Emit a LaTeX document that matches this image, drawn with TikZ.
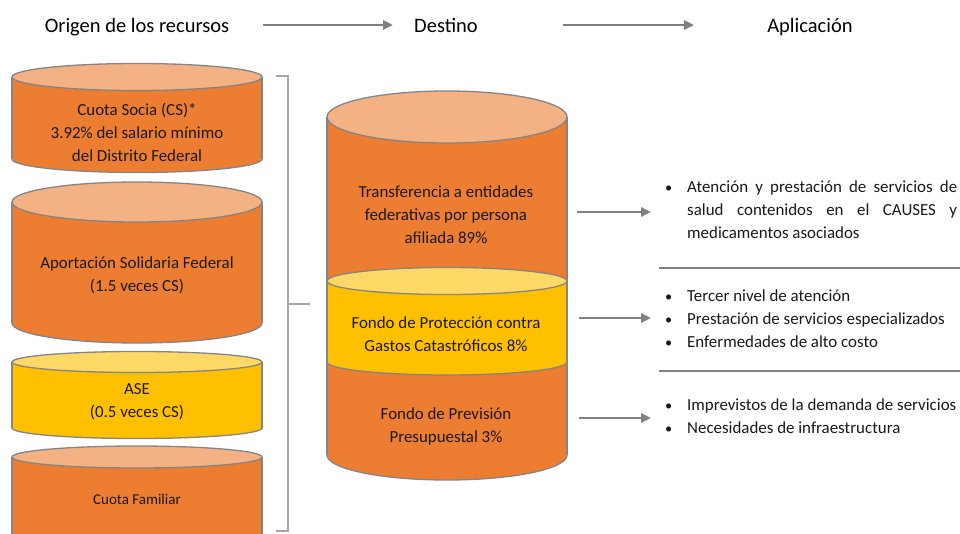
\documentclass[tikz,border=0pt]{standalone}
\usepackage{fontspec}
\setmainfont{Carlito}
\usetikzlibrary{arrows.meta}
\definecolor{orng}{HTML}{ED7D31}
\definecolor{orngtop}{HTML}{F4B183}
\definecolor{ylw}{HTML}{FFC000}
\definecolor{ylwtop}{HTML}{FFD966}
\definecolor{edgec}{HTML}{858585}
\definecolor{arrc}{HTML}{808080}
\definecolor{brkc}{HTML}{A6A6A6}
\tikzset{
  cyledge/.style={draw=edgec, line width=1.3pt},
  bodytext/.style={font=\fontsize{16.9}{23}\selectfont, align=center, inner sep=0pt, text=black!90},
  smalltext/.style={font=\fontsize{15}{20}\selectfont, align=center, inner sep=0pt, text=black!90},
  titletext/.style={font=\fontsize{20.5}{24}\selectfont, inner sep=0pt, text=black, anchor=base},
  listtext/.style={font=\fontsize{16.9}{23}\selectfont, align=left, inner sep=0pt, text=black!90},
  flowarrow/.style={draw=arrc, line width=2.6pt, -{Triangle[length=10pt,width=9pt]}},
  sepline/.style={draw=arrc, line width=2.2pt},
  bracket/.style={draw=brkc, line width=1.6pt}
}
\newcommand\drum[8]{%
  \pgfmathsetmacro\dcx{(#1+#2)/2}\pgfmathsetmacro\drx{(#2-#1)/2}%
  \filldraw[fill=#7,cyledge] (\dcx,#5) ellipse[x radius=\drx, y radius=#6];
  \fill[#7] (#1,#3) rectangle (#2,#5);
  \draw[cyledge] (#1,#3) -- (#1,#5) (#2,#3) -- (#2,#5);
  \filldraw[fill=#8,cyledge] (\dcx,#3) ellipse[x radius=\drx, y radius=#4];
}
\newcommand\bul{\makebox[27pt][l]{\hspace{5pt}\scalebox{0.85}{•}}}
\newcommand\ind{\hspace*{27pt}}
\begin{document}
\begin{tikzpicture}[x=1pt,y=-1pt]
\useasboundingbox (0,0) rectangle (960,533);
\clip (0,0) rectangle (960,533);
\fill[white] (0,0) rectangle (960,533);

% titles
\node[titletext] (t1) at (137,32) {Origen de los recursos};
\node[titletext] (t2) at (446,32) {Destino};
\node[titletext] (t3) at (810,32) {Aplicación};
\coordinate (a1s) at (263,25); \coordinate (a1e) at (393,25);
\coordinate (a2s) at (563,25); \coordinate (a2e) at (694,25);
\draw[flowarrow] (a1s) -- (a1e);
\draw[flowarrow] (a2s) -- (a2e);

% left cylinders
\drum{12}{262}{77}{13.5}{159}{13.5}{orng}{orngtop}
\drum{12}{262}{202}{20}{323}{20}{orng}{orngtop}
\drum{12}{262}{362}{10.5}{428}{10.5}{ylw}{ylwtop}
\drum{12}{262}{457}{11}{548}{11}{orng}{orngtop}
\node[bodytext] (cs) at (137,132.5) {Cuota Socia (CS)*\\3.92\% del salario mínimo\\del Distrito Federal};
\node[bodytext] (asf) at (137,275) {Aportación Solidaria Federal\\(1.5 veces CS)};
\node[bodytext] (ase) at (137,401.5) {ASE\\(0.5 veces CS)};
\node[smalltext] (cf) at (137,499.5) {Cuota Familiar};

% bracket
\coordinate (bt) at (276,76); \coordinate (bb) at (276,531);
\coordinate (bm) at (288,304); \coordinate (bmt) at (310,304);
\draw[bracket] (bt) -- (288,76) -- (288,531) -- (bb);
\draw[bracket] (bm) -- (bmt);

% center cylinder
\filldraw[fill=orng,cyledge] (447,455) ellipse[x radius=120, y radius=25];
\fill[orng] (327,362) rectangle (567,455);
\filldraw[fill=ylw,cyledge] (447,362) ellipse[x radius=120, y radius=13];
\fill[ylw] (327,281) rectangle (567,362);
\fill[orng] (327,117) rectangle (567,281);
\filldraw[fill=ylwtop,cyledge] (447,281) ellipse[x radius=120, y radius=13.5];
\draw[cyledge] (327,117) -- (327,455) (567,117) -- (567,455);
\filldraw[fill=orngtop,cyledge] (447,117) ellipse[x radius=120, y radius=26];
\node[bodytext] (d1) at (446,214.5) {Transferencia a entidades\\federativas por persona\\afiliada 89\%};
\node[bodytext] (d2) at (446,334.5) {Fondo de Protección contra\\Gastos Catastróficos 8\%};
\node[bodytext] (d3) at (446,426.5) {Fondo de Previsión\\Presupuestal 3\%};

% right arrows
\coordinate (r1s) at (577,212); \coordinate (r1e) at (651,212);
\coordinate (r2s) at (579,318); \coordinate (r2e) at (651,318);
\coordinate (r3s) at (579,418); \coordinate (r3e) at (651,418);
\draw[flowarrow] (r1s) -- (r1e);
\draw[flowarrow] (r2s) -- (r2e);
\draw[flowarrow] (r3s) -- (r3e);

% separators
\coordinate (s1s) at (659,268); \coordinate (s1e) at (960,268);
\coordinate (s2s) at (659,371); \coordinate (s2e) at (960,371);
\draw[sepline] (s1s) -- (s1e);
\draw[sepline] (s2s) -- (s2e);

% lists
\node[listtext, anchor=west] (l1) at (660,209.5) {\bul\makebox[270pt][s]{Atención y prestación de servicios de}\\\ind\makebox[270pt][s]{salud contenidos en el CAUSES y}\\\ind medicamentos asociados};
\node[listtext, anchor=west] (l2) at (660,319) {\bul Tercer nivel de atención\\\bul Prestación de servicios especializados\\\bul Enfermedades de alto costo};
\node[listtext, anchor=west] (l3) at (660,416) {\bul Imprevistos de la demanda de servicios\\\bul Necesidades de infraestructura};
\end{tikzpicture}
\end{document}
